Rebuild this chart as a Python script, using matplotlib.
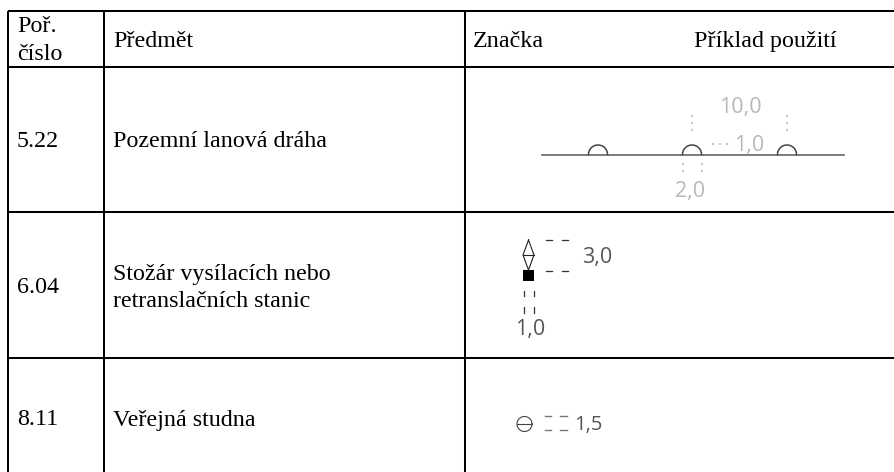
import numpy as np
import matplotlib
matplotlib.use("Agg")
import matplotlib.pyplot as plt

col_x = [8, 104, 465]
row_y = [11, 67, 212, 358]

numbers = ["5.22", "6.04", "8.11"]
subjects = ["Pozemní lanová dráha", "Stožár vysílacích nebo\nretranslačních stanic", "Veřejná studna"]
number_y = [141.5, 287.5, 419.5]
subject_y = [141.5, 288, 420.5]

serif = "Liberation Serif"
sans = "Open Sans"
grey = "#b8b8b8"
size = 17.3

fig = plt.figure(figsize=(8.94, 4.72), dpi=100)
ax = fig.add_axes([0, 0, 1, 1])
ax.set_xlim(0, 894)
ax.set_ylim(472, 0)
ax.axis("off")

# mrizka tabulky
for x in col_x:
    ax.plot([x, x], [row_y[0], 472], color="black", lw=1.45, solid_capstyle="butt")
for y in row_y:
    ax.plot([col_x[0], 894], [y, y], color="black", lw=1.45, solid_capstyle="butt")

# hlavicka
ax.text(17, 26.5, "Poř.", family=serif, fontsize=size, va="center")
ax.text(17, 55, "číslo", family=serif, fontsize=size, va="center")
ax.text(113, 41.5, "Předmět", family=serif, fontsize=size, va="center")
ax.text(473, 41.5, "Značka", family=serif, fontsize=size, va="center")
ax.text(694, 41.5, "Příklad použití", family=serif, fontsize=size, va="center")

for num, subj, ny, sy in zip(numbers, subjects, number_y, subject_y):
    ax.text(17, ny, num, family=serif, fontsize=size, va="center")
    ax.text(113, sy, subj, family=serif, fontsize=size, va="center", linespacing=1.33)

# 5.22 lanova draha
ax.plot([542, 844], [154.5, 154.5], color="#666666", lw=1.2)
t = np.linspace(0, np.pi, 40)
for cx in [598, 692, 787]:
    ax.plot(cx + 9.5 * np.cos(t), 154.5 - 9.5 * np.sin(t), color="#444444", lw=1.1)
dots = dict(color=grey, lw=1.1, ls=(0, (1.5, 3)))
ax.plot([692, 692], [115, 133], **dots)
ax.plot([787, 787], [115, 133], **dots)
ax.plot([683, 683], [163, 173], **dots)
ax.plot([702, 702], [163, 173], **dots)
ax.plot([712, 730], [144, 144], **dots)
ax.text(719, 108, "10,0", family=sans, fontsize=15.5, color=grey, va="center")
ax.text(734, 146, "1,0", family=sans, fontsize=15.5, color=grey, va="center")
ax.text(675, 192, "2,0", family=sans, fontsize=15.5, color=grey, va="center")

# 6.04 stozar
ax.plot([528.5, 523, 528.5, 534, 528.5], [240, 255, 270, 255, 240], color="#222222", lw=0.8)
ax.plot([523, 534], [255, 255], color="#222222", lw=0.8)
ax.fill([523, 534, 534, 523], [270, 270, 281, 281], color="black", lw=0)
dash = dict(color="#333333", lw=0.9)
for x0, x1 in [(546, 552), (562, 568)]:
    ax.plot([x0, x1], [240, 240], **dash)
    ax.plot([x0, x1], [271, 271], **dash)
for y0, y1 in [(291, 296), (307, 313)]:
    ax.plot([523.5, 523.5], [y0, y1], **dash)
    ax.plot([533.5, 533.5], [y0, y1], **dash)
ax.text(582, 258, "3,0", family=sans, fontsize=15.5, color="#555555", va="center")
ax.text(515, 330, "1,0", family=sans, fontsize=15.5, color="#555555", va="center")

# 8.11 studna
th = np.linspace(0, 2 * np.pi, 60)
ax.plot(524.5 + 7.5 * np.cos(th), 424 + 7.5 * np.sin(th), color="#444444", lw=0.8)
ax.plot([517, 532], [424, 424], color="#444444", lw=0.8)
for x0, x1 in [(545, 551), (560, 567)]:
    ax.plot([x0, x1], [416, 416], color="#777777", lw=1.0)
    ax.plot([x0, x1], [430, 430], color="#777777", lw=1.0)
ax.text(574, 425, "1,5", family=sans, fontsize=14.5, color="#555555", va="center")

fig.savefig("out.png", dpi=100)
